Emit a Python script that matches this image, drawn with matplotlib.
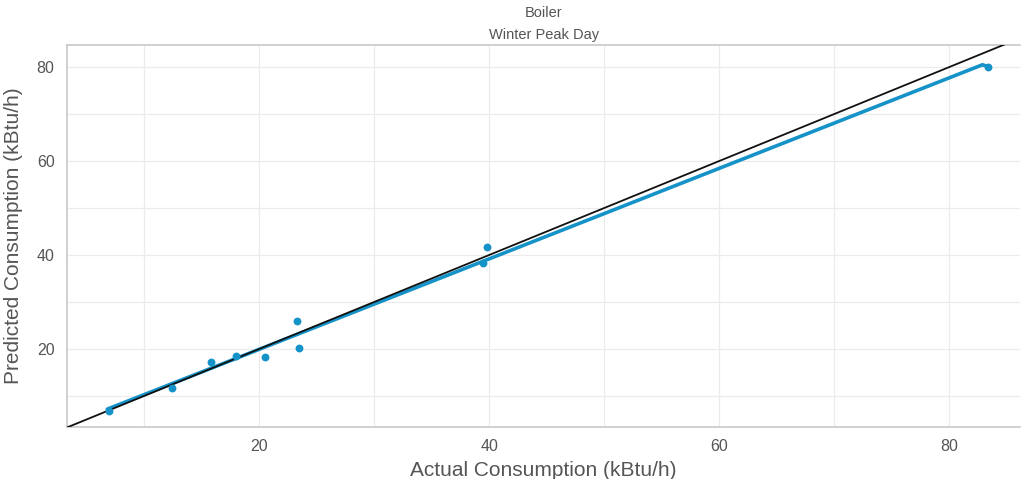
"""Predicted vs actual consumption scatter for the boiler, winter peak day."""

import matplotlib

matplotlib.use("Agg")
import matplotlib.pyplot as plt

plt.rcParams["font.family"] = ["Liberation Sans", "DejaVu Sans"]

actual = [6.96, 12.4, 15.8, 18.0, 20.5, 23.3, 23.5, 39.5, 39.8, 83.4]
predicted = [6.8, 11.7, 17.2, 18.5, 18.3, 26.0, 20.2, 38.3, 41.7, 80.1]
# fitted line as it appears in the picture (ends with a small hook at the last point)
fit_x = [6.8, 82.9, 83.4]
fit_y = [7.2, 80.5, 80.1]
x_limits = (3.3, 86.2)
y_limits = (3.4, 84.7)
major_ticks = [20, 40, 60, 80]
minor_ticks = [10, 30, 50, 70]

_BLUE = "#1592c8"
_GRAY_TEXT = "#555555"
_GRID = "#ebebeb"

fig = plt.figure(figsize=(10.23, 4.79), dpi=100)
ax = fig.add_axes((0.0655, 0.1086, 0.932, 0.7974))

ax.set_xlim(*x_limits)
ax.set_ylim(*y_limits)

# identity line, corner to corner of the visible range
lo = min(x_limits[0], y_limits[0])
hi = max(x_limits[1], y_limits[1])
ax.plot([lo, hi], [lo, hi], color="#111111", lw=1.3, zorder=3)

ax.plot(fit_x, fit_y, color=_BLUE, lw=2.6, zorder=2, solid_capstyle="round")
ax.scatter(actual, predicted, s=32, color=_BLUE, zorder=4, linewidths=0)

ax.set_xticks(major_ticks)
ax.set_yticks(major_ticks)
ax.set_xticks(minor_ticks, minor=True)
ax.set_yticks(minor_ticks, minor=True)
ax.grid(True, which="both", color=_GRID, lw=0.9)
ax.set_axisbelow(True)
ax.tick_params(which="both", length=0, labelsize=11.5, labelcolor=_GRAY_TEXT, pad=9)

for side in ("left", "bottom", "top"):
    ax.spines[side].set_color("#c8c8c8")
    ax.spines[side].set_linewidth(1.2)
ax.spines["right"].set_visible(False)

ax.set_xlabel("Actual Consumption (kBtu/h)", fontsize=15, color=_GRAY_TEXT, labelpad=5)
ax.set_ylabel("Predicted Consumption (kBtu/h)", fontsize=15, color=_GRAY_TEXT, labelpad=10)
ax.set_title("Boiler\nWinter Peak Day", fontsize=10.5, color=_GRAY_TEXT,
             linespacing=1.75, pad=4)

fig.savefig("out.png", dpi=100)
plt.close(fig)
